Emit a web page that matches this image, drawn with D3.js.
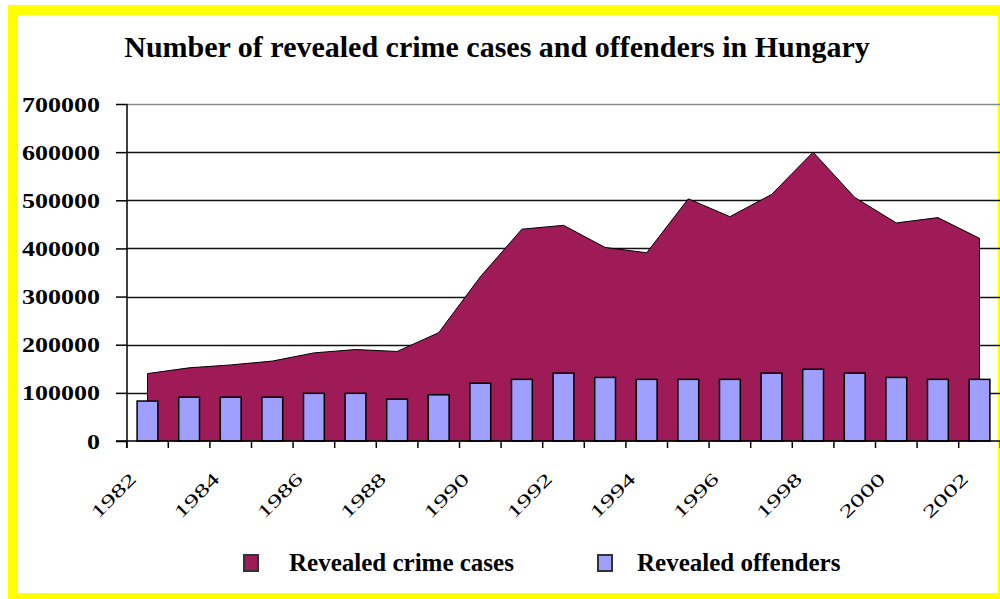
<!DOCTYPE html>
<html>
<head>
<meta charset="utf-8">
<script src="https://cdn.jsdelivr.net/npm/d3@7"></script>
<style>
  html, body { margin: 0; padding: 0; background: #fff; }
  svg { display: block; }
</style>
</head>
<body>
<div id="chart"></div>
<script>
// Crime statistics, Hungary 1982-2002
const years = [1982, 1983, 1984, 1985, 1986, 1987, 1988, 1989, 1990, 1991,
  1992, 1993, 1994, 1995, 1996, 1997, 1998, 1999, 2000, 2001, 2002];
const crimeCases = [140000, 152000, 158000, 166000, 183000, 190000, 186000, 225000,
  341000, 440000, 448000, 402000, 391000, 503000, 466000, 512000, 600000, 506000,
  453000, 464000, 421000];
const offenders = [83000, 91000, 91000, 91000, 99000, 99000, 87000, 96000, 120000,
  128000, 141000, 132000, 128000, 128000, 128000, 141000, 149000, 141000, 132000,
  128000, 128000];
const yTicks = [0, 100000, 200000, 300000, 400000, 500000, 600000, 700000];
const labelYears = [1982, 1984, 1986, 1988, 1990, 1992, 1994, 1996, 1998, 2000, 2002];
const seriesNames = ['Revealed crime cases', 'Revealed offenders'];

const width = 1000;
const height = 599;
const serif = '"Liberation Serif", "Times New Roman", serif';
const areaColor = '#9f1b57';
const barColor = '#9f9fff';

const svg = d3.select('#chart')
  .append('svg')
  .attr('width', width)
  .attr('height', height);

// yellow frame
svg.append('rect')
  .attr('x', 13)
  .attr('y', 10)
  .attr('width', 990)
  .attr('height', 588)
  .attr('fill', '#fff')
  .attr('stroke', '#ffff00')
  .attr('stroke-width', 10);

// title
svg.append('text')
  .attr('x', 497)
  .attr('y', 57)
  .attr('text-anchor', 'middle')
  .attr('font-family', serif)
  .attr('font-weight', 'bold')
  .attr('font-size', 30)
  .text('Number of revealed crime cases and offenders in Hungary');

const x = d3.scaleBand()
  .domain(years)
  .range([126.7, 1000.3])
  .padding(0);

const y = d3.scaleLinear()
  .domain([0, 700000])
  .range([441, 104]);

const cx = d => x(d) + x.bandwidth() / 2;

// gridlines (behind the area)
svg.append('g')
  .selectAll('line')
  .data(yTicks.filter(t => t > 0))
  .join('line')
  .attr('x1', 127)
  .attr('x2', width)
  .attr('y1', d => Math.round(y(d)) + 0.5)
  .attr('y2', d => Math.round(y(d)) + 0.5)
  .attr('stroke', d => d === 700000 ? '#8a8a8a' : '#111')
  .attr('stroke-width', 1.3);

// area series
const area = d3.area()
  .x((d, i) => cx(years[i]))
  .y0(y(0))
  .y1(d => y(d));

svg.append('path')
  .datum(crimeCases)
  .attr('d', area)
  .attr('fill', areaColor)
  .attr('stroke', '#000')
  .attr('stroke-width', 1)
  .attr('stroke-linejoin', 'miter');

// bar series
const barW = x.bandwidth() * 0.5;
svg.append('g')
  .selectAll('rect')
  .data(offenders)
  .join('rect')
  .attr('x', (d, i) => cx(years[i]) - barW / 2)
  .attr('y', d => y(d))
  .attr('width', barW)
  .attr('height', d => y(0) - y(d))
  .attr('fill', barColor)
  .attr('stroke', '#000')
  .attr('stroke-width', 1.5);

// y axis
const yAxis = d3.axisLeft(y)
  .tickValues(yTicks)
  .tickFormat(d3.format('d'))
  .tickSize(11)
  .tickPadding(16);

const yAxisG = svg.append('g')
  .attr('transform', 'translate(127,0)')
  .call(yAxis);

yAxisG.select('.domain').remove();
yAxisG.selectAll('.tick line')
  .attr('stroke', '#000')
  .attr('stroke-width', 1.5);
yAxisG.selectAll('.tick text')
  .attr('font-family', serif)
  .attr('font-weight', 'bold')
  .attr('font-size', 22)
  .attr('fill', '#000')
  .attr('textLength', d => String(d).length * 13)
  .attr('lengthAdjust', 'spacingAndGlyphs');

// axis lines
svg.append('line')
  .attr('x1', 127).attr('x2', 127)
  .attr('y1', y(700000)).attr('y2', y(0) + 7)
  .attr('stroke', '#000')
  .attr('stroke-width', 1.5);

svg.append('line')
  .attr('x1', 116).attr('x2', width)
  .attr('y1', y(0)).attr('y2', y(0))
  .attr('stroke', '#000')
  .attr('stroke-width', 1.5);

// x ticks at category boundaries
const boundaries = years.map(d => x(d)).concat([x.range()[1]]);
svg.append('g')
  .selectAll('line')
  .data(boundaries)
  .join('line')
  .attr('x1', d => d)
  .attr('x2', d => d)
  .attr('y1', y(0))
  .attr('y2', y(0) + 7)
  .attr('stroke', '#000')
  .attr('stroke-width', 1.5);

// x labels, every second year, rotated
svg.append('g')
  .selectAll('text')
  .data(labelYears)
  .join('text')
  .attr('transform', d => `translate(${cx(d) - 10},${480}) rotate(-45)`)
  .attr('text-anchor', 'end')
  .attr('font-family', serif)
  .attr('font-size', 18)
  .attr('fill', '#000')
  .attr('textLength', 56)
  .attr('lengthAdjust', 'spacingAndGlyphs')
  .text(d => d);

// legend
const legendItems = [
  { name: seriesNames[0], color: areaColor, mx: 244, tx: 289 },
  { name: seriesNames[1], color: barColor, mx: 598, tx: 637 }
];

const legend = svg.append('g')
  .selectAll('g')
  .data(legendItems)
  .join('g');

legend.append('rect')
  .attr('x', d => d.mx)
  .attr('y', 555)
  .attr('width', 14)
  .attr('height', 16)
  .attr('fill', d => d.color)
  .attr('stroke', '#333')
  .attr('stroke-width', 2);

legend.append('text')
  .attr('x', d => d.tx)
  .attr('y', 571)
  .attr('font-family', serif)
  .attr('font-weight', 'bold')
  .attr('font-size', 25)
  .attr('fill', '#000')
  .text(d => d.name);
</script>
</body>
</html>
